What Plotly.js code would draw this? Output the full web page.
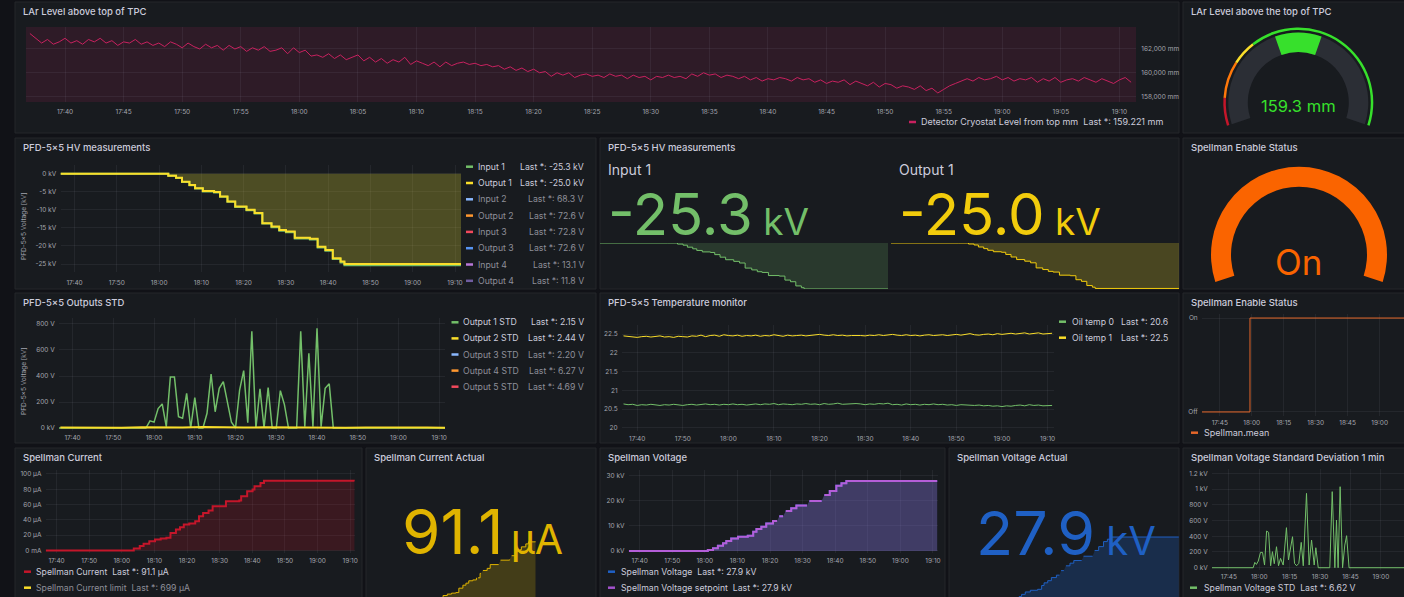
<!DOCTYPE html>
<html>
<head>
<meta charset="utf-8">
<script src="https://cdn.plot.ly/plotly-3.0.1.min.js"></script>
<style>
html,body{margin:0;padding:0;background:#111217;overflow:hidden}
#chart{width:1404px;height:597px}
</style>
</head>
<body>
<div id="chart"></div>
<script>
// ================= DATA =================
const DAY = '2024-05-14 ';
const timeRange = ['17:36:40', '19:11:25'];

// LAr level above top of TPC (mm), one reading every 30 s from 17:37:00
const larStart = '17:37:00';
const larStepSec = 30;
const larLevelMM = [
163.3,162.9,162.5,162.8,162.4,162.6,162.9,162.5,162.7,162.4,
162.8,162.6,162.9,162.5,162.7,162.3,162.6,162.5,162.8,162.4,
162.6,162.3,162.5,162.2,162.6,162.4,162.1,162.5,162.2,162.0,
162.4,162.1,162.3,161.9,162.3,162.0,162.2,161.8,162.1,161.9,
162.2,161.8,161.9,162.1,161.6,162.1,161.7,161.9,161.4,161.5,
161.3,161.6,161.2,161.5,161.1,161.3,161.5,161.0,161.3,160.9,
161.2,160.8,161.1,160.9,161.3,160.7,161.0,160.8,160.6,160.9,
160.5,160.9,160.6,160.8,160.9,160.7,160.8,160.6,160.7,160.5,
160.6,160.3,160.5,160.2,160.4,160.1,160.3,160.0,160.1,159.7,
160.0,159.8,160.0,159.6,159.8,159.9,159.7,159.8,159.6,159.9,
159.7,159.8,159.5,159.8,159.6,159.7,159.4,159.7,159.6,159.8,
159.6,159.7,159.5,159.9,159.7,160.0,159.8,159.9,159.6,159.8,
159.7,159.5,159.7,159.4,159.6,159.3,159.5,159.4,159.6,159.5,
159.3,159.6,159.4,159.5,159.2,159.4,159.1,159.3,159.2,159.4,
159.0,159.3,159.1,158.9,159.2,158.8,159.1,159.0,158.7,158.9,
158.8,158.6,158.9,158.5,158.7,158.3,158.6,158.9,159.1,159.3,
159.5,159.3,159.6,159.4,159.5,159.7,159.4,159.6,159.3,159.5,
159.4,159.6,159.2,159.5,159.3,159.6,159.2,159.4,159.5,159.3,
159.6,159.4,159.2,159.5,159.3,159.1,159.4,159.6,159.2];
const larYTicks = [158, 160, 162];
const larYText = ['158,000 mm', '160,000 mm', '162,000 mm'];
const larLegendName = 'Detector Cryostat Level from top mm';
const larLegendLast = 'Last *: 159.221 mm';
const larGaugeValueText = '159.3 mm';
// gauge scale (mm) and thresholds
const larGaugeMin = 150, larGaugeMax = 170;
const larThresholds = [150, 152, 154.7, 156.5];
const larThresholdColors = ['#c4162a', '#ff780a', '#fade2a', '#37e02c'];
const larValueBand = [158.2, 161.8];

// PFD-5x5 HV measurements (kV)
const hvTimes = ['17:36:40','17:59:00','18:02:10','18:04:00','18:05:25','18:07:10','18:08:30','18:10:20','18:13:00','18:14:25',
 '18:16:10','18:18:00','18:20:40','18:22:35','18:24:25','18:26:35','18:28:25','18:30:00','18:32:05','18:35:40',
 '18:37:30','18:39:20','18:41:05','18:42:55','18:43:50','19:11:25'];
const hvOutput1KV = [0,0,-0.55,-1.1,-2.2,-3.1,-4.0,-4.8,-5.1,-6.3,-7.7,-9.1,-10.0,-10.9,-13.7,-14.6,-15.6,-16.0,-17.7,-18.0,-20.2,-21.1,-23.4,-24.3,-25.0,-25.0];
const hvInput1KV  = [0,0,-0.6,-1.2,-2.3,-3.2,-4.1,-4.9,-5.2,-6.4,-7.8,-9.2,-10.1,-11.0,-13.8,-14.8,-15.8,-16.2,-17.9,-18.2,-20.4,-21.3,-23.6,-24.6,-25.3,-25.3];
const hvLegendNames = ['Input 1','Output 1','Input 2','Output 2','Input 3','Output 3','Input 4','Output 4'];
const hvLegendLast = ['Last *: -25.3 kV','Last *: -25.0 kV','Last *: 68.3 V','Last *: 72.6 V','Last *: 72.8 V','Last *: 72.6 V','Last *: 13.1 V','Last *: 11.8 V'];
const hvLegendColors = ['#73bf69','#fade2a','#8ab8ff','#ff9830','#f2495c','#5794f2','#b877d9','#705da0'];
const hvLegendShown = [true,true,false,false,false,false,false,false];
const hvYTicks = [0,-5,-10,-15,-20,-25];
const hvYText = ['0 kV','-5 kV','-10 kV','-15 kV','-20 kV','-25 kV'];
const hvStatNames = ['Input 1','Output 1'];
const hvStatValues = ['-25.3','-25.0'];
const hvStatUnit = 'kV';

// Spellman enable status
const enableTimes = ['17:36:40','17:59:10','19:11:25'];
const enableValues = [0,1,1];
const enableYText = ['Off','On'];
const enableStateText = 'On';

// PFD-5x5 Outputs STD (V)
const stdOut1Start = '17:58:00';   // one value per minute
const stdOut1V = [0,55,45,150,185,10,392,392,87,75,267,0,233,0,0,113,415,125,305,356,
 190,44,0,292,441,40,744,0,302,0,310,0,0,287,180,0,0,0,744,10,574,10,767,10,305,340,0];
const stdOut2Start = '17:37:00';   // one value every 5 minutes
const stdOut2V = [4,3,5,2,6,3,4,8,5,3,6,4,3,5,2,4,6,3,4,2];
const stdLegendNames = ['Output 1 STD','Output 2 STD','Output 3 STD','Output 4 STD','Output 5 STD'];
const stdLegendLast = ['Last *: 2.15 V','Last *: 2.44 V','Last *: 2.20 V','Last *: 6.27 V','Last *: 4.69 V'];
const stdLegendColors = ['#73bf69','#fade2a','#8ab8ff','#ff9830','#f2495c'];
const stdLegendShown = [true,true,false,false,false];
const stdYTicks = [0,200,400,600,800];
const stdYText = ['0 kV','200 V','400 V','600 V','800 V'];

// PFD-5x5 Temperature monitor, one value per minute from 17:37
const tempStart = '17:37:00';
const oilTemp0 = [
20.64,20.62,20.63,20.60,20.62,20.61,20.63,20.62,20.60,20.62,
20.61,20.63,20.62,20.60,20.62,20.63,20.61,20.62,20.64,20.62,
20.63,20.61,20.63,20.62,20.64,20.62,20.63,20.61,20.63,20.64,
20.62,20.64,20.63,20.65,20.62,20.64,20.63,20.62,20.64,20.63,
20.65,20.63,20.64,20.62,20.65,20.63,20.64,20.66,20.63,20.64,
20.63,20.65,20.64,20.62,20.64,20.63,20.65,20.64,20.66,20.62,
20.63,20.61,20.64,20.62,20.63,20.61,20.63,20.62,20.64,20.62,
20.63,20.61,20.62,20.60,20.62,20.61,20.62,20.60,20.61,20.59,
20.60,20.58,20.59,20.57,20.59,20.58,20.60,20.61,20.59,20.62,
20.60,20.61,20.59,20.60,20.60];
const oilTemp1 = [
22.45,22.44,22.42,22.41,22.43,22.44,22.42,22.43,22.45,22.42,
22.43,22.41,22.44,22.43,22.42,22.45,22.44,22.47,22.43,22.46,
22.47,22.44,22.48,22.46,22.45,22.47,22.44,22.46,22.45,22.47,
22.44,22.46,22.45,22.48,22.46,22.44,22.47,22.45,22.46,22.47,
22.45,22.46,22.48,22.49,22.47,22.46,22.48,22.46,22.47,22.45,
22.46,22.47,22.46,22.45,22.47,22.46,22.48,22.46,22.47,22.49,
22.47,22.46,22.48,22.46,22.47,22.45,22.47,22.48,22.46,22.47,
22.48,22.46,22.47,22.49,22.47,22.48,22.51,22.48,22.47,22.49,
22.50,22.48,22.51,22.49,22.50,22.52,22.50,22.51,22.53,22.50,
22.51,22.53,22.50,22.51,22.52];
const tempLegendNames = ['Oil temp 0','Oil temp 1'];
const tempLegendLast = ['Last *: 20.6','Last *: 22.5'];
const tempColors = ['#73bf69','#fade2a'];
const tempYTicks = [20,20.5,21,21.5,22,22.5];
const tempYText = ['20','20.5','21','21.5','22','22.5'];

// Spellman current (uA)
const curTimes = ['17:36:40','18:02:00','18:03:40','18:05:30','18:06:40','18:08:25','18:10:10','18:11:55','18:13:40','18:14:55',
 '18:16:35','18:17:50','18:19:00','18:20:40','18:22:30','18:23:40','18:24:55','18:26:35','18:27:50','18:30:40',
 '18:31:55','18:36:00','18:36:35','18:38:25','18:40:05','18:40:40','18:42:30','18:43:35','19:11:20'];
const curUA = [0,0,2.6,5.7,8.7,12.2,14.3,15.7,16.5,23.0,27.4,30.4,33.9,35.2,38.3,44.8,49.1,52.2,57.8,57.8,
 64.3,65.2,70.9,77.4,79.6,83.9,88.3,91.3,91.1];
const curYTicks = [0,20,40,60,80,100];
const curYText = ['0 mA','20 µA','40 µA','60 µA','80 µA','100 µA'];
const curLegend = [['Spellman Current','Last *: 91.1 µA','#c4162a',true],['Spellman Current limit','Last *: 699 µA','#fade2a',false]];
// Spellman current actual (stat sparkline, with gaps)
const caTimes = ['17:36:40','18:02:00','18:03:40','18:05:30','18:06:40','18:08:25','18:10:10','18:11:55','18:13:40','18:14:55',
 '18:16:35','18:17:50','18:19:00','18:20:40','18:22:10','18:22:30','18:22:50','18:23:40','18:24:00','18:24:20',
 '18:24:50','18:26:35','18:27:50','18:31:20','18:31:40','18:32:05','18:35:50','18:36:10','18:36:40','18:38:25',
 '18:40:05','18:40:40','18:42:30','18:43:35','18:46:30'];
const caUA = [0,0,2.6,5.7,8.7,12.2,14.3,15.7,16.5,23.0,27.4,30.4,33.9,35.2,38.3,null,38.3,44.8,44.8,null,
 49.1,52.2,57.8,57.8,null,64.3,65.2,null,70.9,77.4,79.6,83.9,88.3,91.3,91.1];
const caValueText = '91.1', caUnit = 'µA';

// Spellman voltage (kV) incl. gaps
const vTimes = ['17:36:40','18:00:55','18:02:30','18:04:00','18:05:35','18:06:35','18:08:05','18:10:10','18:13:10','18:14:50',
 '18:15:50','18:17:20','18:18:50','18:20:55','18:22:10','18:22:30','18:22:50','18:24:00','18:24:20','18:24:50',
 '18:26:30','18:28:05','18:31:20','18:31:40','18:32:05','18:35:50','18:36:10','18:36:40','18:38:20','18:40:20',
 '18:41:55','18:43:25','19:11:20'];
const vKV = [0,0.4,1.1,2.1,3.1,4.0,5.0,5.7,6.1,7.7,8.8,9.7,11.0,12.0,12.0,null,13.9,13.9,null,15.9,
 17.0,18.1,18.1,null,19.9,19.9,null,22.3,23.9,26.0,27.0,27.9,27.9];
const vYTicks = [0,10,20,30];
const vYText = ['0 kV','10 kV','20 kV','30 kV'];
const vLegend = [['Spellman Voltage','Last *: 27.9 kV','#1f60c4'],['Spellman Voltage setpoint','Last *: 27.9 kV','#a352cc']];
const vValueText = '27.9', vUnit = 'kV';

// Spellman voltage standard deviation 1 min (V)
const vstdTimes = ['17:36:40','17:57:00','17:57:48','17:58:36','17:59:30','18:00:36','18:01:36','18:02:36','18:03:36','18:04:36',
 '18:05:36','18:06:30','18:07:24','18:08:30','18:09:30','18:10:30','18:11:48','18:13:24','18:14:24','18:15:36',
 '18:16:24','18:17:24','18:18:24','18:19:30','18:20:42','18:21:42','18:23:18','18:24:36','18:25:48','18:27:06',
 '18:27:54','18:29:06','18:34:48','18:36:00','18:37:18','18:38:06','18:38:54','18:39:54','18:41:06','18:42:12',
 '18:43:06','18:44:18','19:11:25'];
const vstdV = [0,0,68,42,85,195,195,34,466,449,25,204,51,267,25,119,34,509,98,288,
 394,55,25,55,322,25,945,34,352,34,254,0,0,967,0,606,0,1030,0,288,407,0,0];
const vstdYTicks = [0,200,400,600,800,1000,1200];
const vstdYText = ['0 kV','200 V','400 V','600 V','800 V','1 kV','1.2 kV'];
const vstdLegend = ['Spellman Voltage STD','Last *: 6.62 V','#73bf69'];

// ================= HELPERS =================
const W = 1404, H = 597;
const FONT = 'Inter, "Open Sans", sans-serif';
const TXT = '#ccccdc', DIM = '#8e8f99', TICKC = '#a3a5ae';
const PANEL = '#181b1f', BORDER = '#24262b', PAGE = '#111217';
const GRID = 'rgba(204,204,220,0.07)';
const px = v => v / W;
const py = v => 1 - v / H;
const dX = (a, b) => [px(a), px(b)];
const dY = (top, bottom) => [py(bottom), py(top)];
function toSec(s){const p=s.split(':').map(Number);return p[0]*3600+p[1]*60+(p[2]||0);}
function fromSec(t){const h=Math.floor(t/3600),m=Math.floor((t%3600)/60),s=Math.round(t%60);return [h,m,s].map(v=>String(v).padStart(2,'0')).join(':');}
const T = s => DAY + fromSec(toSec(s));
const regular = (start, step, n) => Array.from({length:n}, (_, i) => DAY + fromSec(toSec(start) + i*step));
const TICK = {family: FONT, size: 6.5, color: TICKC};

function xAxis(x0, x1, anchor, dtickMin, ticklen) {
  return {domain: dX(x0, x1), anchor, type: 'date', range: timeRange.map(T), tickformat: '%H:%M',
    dtick: dtickMin*60000, tick0: T('17:00:00'), tickfont: TICK, gridcolor: GRID, showline: false,
    zeroline: false, ticks: 'outside', ticklen, tickcolor: 'rgba(0,0,0,0)', fixedrange: true};
}
function yAxis(top, bottom, anchor, range, vals, text, extra) {
  return Object.assign({domain: dY(top, bottom), anchor, range, tickvals: vals, ticktext: text,
    tickfont: TICK, gridcolor: GRID, showline: false, zeroline: false, ticks: 'outside', ticklen: 2,
    tickcolor: 'rgba(0,0,0,0)', fixedrange: true}, extra || {});
}
function hidden(domain, anchor, range, isX) {
  const a = {anchor, range, visible: false, fixedrange: true};
  a.domain = isX ? dX(domain[0], domain[1]) : dY(domain[0], domain[1]);
  if (isX) a.type = 'date';
  return a;
}

const shapes = [], annotations = [];
function panel(x0, y0, x1, y1, title) {
  shapes.push({type: 'rect', xref: 'paper', yref: 'paper', x0: px(x0), x1: px(x1), y0: py(y0), y1: py(y1),
    fillcolor: PANEL, line: {color: BORDER, width: 1}, layer: 'below'});
  annotations.push({xref: 'paper', yref: 'paper', x: px(x0 + 6), y: py(y0 + 9.5), xanchor: 'left', yanchor: 'middle',
    text: title, showarrow: false, font: {family: FONT, size: 9.5, color: TXT, weight: 500}});
}
function text(x, y, t, size, color, xanchor, extra) {
  annotations.push(Object.assign({xref: 'paper', yref: 'paper', x: px(x), y: py(y), xanchor: xanchor || 'left',
    yanchor: 'middle', text: t, showarrow: false, font: {family: FONT, size, color}}, extra || {}));
}
function mark(x, y, color) {
  shapes.push({type: 'line', xref: 'paper', yref: 'paper', x0: px(x), x1: px(x + 7), y0: py(y), y1: py(y),
    line: {color, width: 2.5}});
}

// ================= PANELS =================
panel(15, 2, 1179, 133, 'LAr Level above top of TPC');
panel(1183, 2, 1406, 133, 'LAr Level above the top of TPC');
panel(15, 138, 596, 289, 'PFD-5×5 HV measurements');
panel(600, 138, 1179, 289, 'PFD-5×5 HV measurements');
panel(1183, 138, 1406, 289, 'Spellman Enable Status');
panel(15, 293, 596, 443, 'PFD-5×5 Outputs STD');
panel(600, 293, 1179, 443, 'PFD-5×5 Temperature monitor');
panel(1183, 293, 1406, 443, 'Spellman Enable Status');
panel(15, 448, 362, 600, 'Spellman Current');
panel(366, 448, 596, 600, 'Spellman Current Actual');
panel(600, 448, 945, 600, 'Spellman Voltage');
panel(949, 448, 1179, 600, 'Spellman Voltage Actual');
panel(1183, 448, 1406, 600, 'Spellman Voltage Standard Deviation 1 min');

// ================= TRACES =================
const line = (x, y, xa, ya, color, width, extra) => Object.assign({type: 'scatter', mode: 'lines', x, y,
  xaxis: xa, yaxis: ya, line: {color, width}, hoverinfo: 'skip', showlegend: false}, extra || {});

const traces = [];
const larX = regular(larStart, larStepSec, larLevelMM.length);
traces.push(line(larX, larLevelMM, 'x', 'y', '#c8215f', 1));
shapes.push({type: 'rect', xref: 'x domain', yref: 'y domain', x0: 0, x1: 1, y0: 0, y1: 1,
  fillcolor: 'rgba(200,33,95,0.13)', line: {width: 0}, layer: 'below'});

const hvX = hvTimes.map(T);
traces.push(line(hvX, hvInput1KV, 'x2', 'y2', '#73bf69', 2, {line: {color: '#73bf69', width: 2, shape: 'hv'}, fill: 'tozeroy', fillcolor: 'rgba(115,191,105,0.06)'}));
traces.push(line(hvX, hvOutput1KV, 'x2', 'y2', '#fade2a', 2, {line: {color: '#fade2a', width: 2, shape: 'hv'}, fill: 'tozeroy', fillcolor: 'rgba(250,222,42,0.22)'}));
traces.push(line(hvX, hvInput1KV, 'x3', 'y3', '#73bf69', 1, {line: {color: '#73bf69', width: 1, shape: 'hv'}, fill: 'tozeroy', fillcolor: 'rgba(115,191,105,0.19)'}));
traces.push(line(hvX, hvOutput1KV, 'x4', 'y4', '#fade2a', 1, {line: {color: '#f2cc0c', width: 1, shape: 'hv'}, fill: 'tozeroy', fillcolor: 'rgba(250,222,42,0.22)'}));

const s1X = [T(timeRange[0])].concat(regular(stdOut1Start, 60, stdOut1V.length), [T(timeRange[1])]);
traces.push(line(s1X, [0].concat(stdOut1V, [0]), 'x5', 'y5', '#73bf69', 1.5));
traces.push(line(regular(stdOut2Start, 300, stdOut2V.length), stdOut2V, 'x5', 'y5', '#fade2a', 2));

const tX = regular(tempStart, 60, oilTemp0.length);
traces.push(line(tX, oilTemp0, 'x6', 'y6', tempColors[0], 1));
traces.push(line(tX, oilTemp1, 'x6', 'y6', tempColors[1], 1));

traces.push(line(enableTimes.map(T), enableValues, 'x7', 'y7', '#e5672a', 1, {line: {color: '#e5672a', width: 1, shape: 'hv'}}));

const cX = curTimes.map(T);
traces.push(line(cX, curUA, 'x8', 'y8', '#c4162a', 2, {line: {color: '#c4162a', width: 2, shape: 'hv'}, fill: 'tozeroy', fillcolor: 'rgba(196,22,42,0.2)'}));
traces.push(line(caTimes.map(T), caUA, 'x9', 'y9', '#e0b400', 1, {line: {color: '#e0b400', width: 1, shape: 'hv'}, fill: 'tozeroy', fillcolor: 'rgba(224,180,0,0.22)'}));

const vX = vTimes.map(T);
traces.push(line(vX, vKV, 'x10', 'y10', '#1f60c4', 2, {line: {color: '#1f60c4', width: 2, shape: 'hv'}, fill: 'tozeroy', fillcolor: 'rgba(31,96,196,0.2)'}));
traces.push(line(vX, vKV, 'x10', 'y10', '#b45ed8', 2, {line: {color: '#b45ed8', width: 2, shape: 'hv'}, fill: 'tozeroy', fillcolor: 'rgba(184,119,217,0.25)'}));
traces.push(line(vX, vKV, 'x11', 'y11', '#1f60c4', 1, {line: {color: '#1f60c4', width: 1, shape: 'hv'}, fill: 'tozeroy', fillcolor: 'rgba(31,96,196,0.27)'}));

traces.push(line(vstdTimes.map(T), vstdV, 'x12', 'y12', '#73bf69', 1));

// ---- gauges as ring (pie) traces ----
const ARC = 216; // degrees of gauge sweep
const START = -ARC / 2;
const ang = v => (v - larGaugeMin) / (larGaugeMax - larGaugeMin) * ARC;
function ring(cx, cy, rOut, rIn, rotation, values, colors) {
  return {type: 'pie', values, sort: false, direction: 'clockwise', rotation, hole: rIn / rOut,
    marker: {colors, line: {width: 0}}, textinfo: 'none', hoverinfo: 'skip', showlegend: false,
    domain: {x: dX(cx - rOut, cx + rOut), y: dY(cy - rOut, cy + rOut)}};
}
const thrEdges = larThresholds.concat([larGaugeMax]).map(ang);
const thrSlices = thrEdges.slice(1).map((e, i) => e - thrEdges[i]);
traces.push(ring(1298.3, 102.5, 75, 72.5, START, thrSlices.concat([360 - ARC]), larThresholdColors.concat(['rgba(0,0,0,0)'])));
traces.push(ring(1298.3, 102.5, 70, 50.5, START, [ARC, 360 - ARC], ['#2b2e35', 'rgba(0,0,0,0)']));
traces.push(ring(1298.3, 102.5, 70, 50.5, START + ang(larValueBand[0]), [ang(larValueBand[1]) - ang(larValueBand[0]), 360 - (ang(larValueBand[1]) - ang(larValueBand[0]))], ['#37e02c', 'rgba(0,0,0,0)']));
traces.push(ring(1299, 254.7, 88, 68, START, [ARC * enableValues[enableValues.length - 1], 360 - ARC], ['#fa6400', 'rgba(0,0,0,0)']));

// ================= TEXT: legends, stats =================
mark(909, 122, '#c8215f');
text(919, 122, larLegendName + '&nbsp; ' + larLegendLast, 9, TXT);
text(1298, 106.5, larGaugeValueText, 16.5, '#37e02c', 'center');

hvLegendNames.forEach((n, i) => {
  const y = 166.7 + i * 16.3, c = hvLegendShown[i] ? TXT : DIM;
  mark(466, y, hvLegendColors[i]);
  text(476.5, y, n, 8.7, c);
  text(586, y, hvLegendLast[i], 8.7, c, 'right');
});
text(24, 226, 'PFD-5×5 Voltage [kV]', 6.5, TICKC, 'center', {textangle: -90});
text(24, 381, 'PFD-5×5 Voltage [kV]', 6.5, TICKC, 'center', {textangle: -90});

const statX = [606, 897], statColors = ['#73bf69', '#f2cc0c'];
hvStatNames.forEach((n, i) => {
  text(statX[i], 170, n, 14, TXT);
  text(statX[i], 214, hvStatValues[i] + '<span style="font-size:37px"> ' + hvStatUnit + '</span>', 58, statColors[i]);
});
text(1298, 262, enableStateText, 35, '#fa6400', 'center');

stdLegendNames.forEach((n, i) => {
  const y = 322.3 + i * 16.1, c = stdLegendShown[i] ? TXT : DIM;
  mark(451.5, y, stdLegendColors[i]);
  text(461, y, n, 8.7, c);
  text(586, y, stdLegendLast[i], 8.7, c, 'right');
});
tempLegendNames.forEach((n, i) => {
  const y = 321.7 + i * 16;
  mark(1059, y, tempColors[i]);
  text(1070, y, n, 8.7, TXT);
  text(1170, y, tempLegendLast[i], 8.7, TXT, 'right');
});
mark(1191, 432.7, '#e5672a');
text(1202, 432.7, 'Spellman.mean', 9, TXT);

curLegend.forEach((r, i) => {
  const y = 571.7 + i * 16;
  mark(24, y, r[2]);
  text(34.4, y, r[0] + '&nbsp; ' + r[1], 8.7, r[3] ? TXT : DIM);
});
text(482, 531, caValueText + '<span style="font-size:41px">&#8201;' + caUnit + '</span>', 62, '#e0b400', 'center');
vLegend.forEach((r, i) => {
  const y = 571.7 + i * 16;
  mark(608, y, r[2]);
  text(618.7, y, r[0] + '&nbsp; ' + r[1], 8.7, TXT);
});
text(1066, 533, vValueText + '<span style="font-size:40px"> ' + vUnit + '</span>', 61, '#1f60c4', 'center');
mark(1190, 587.7, vstdLegend[2]);
text(1202, 587.7, vstdLegend[0] + '&nbsp; ' + vstdLegend[1], 8.7, TXT);

// ================= LAYOUT =================
const layout = {
  width: W, height: H, margin: {l: 0, r: 0, t: 0, b: 0}, autosize: false,
  paper_bgcolor: PAGE, plot_bgcolor: 'rgba(0,0,0,0)', showlegend: false,
  font: {family: FONT, color: TXT}, shapes, annotations,
  xaxis: xAxis(26, 1136, 'y', 5, 3),
  yaxis: yAxis(27, 102, 'x', [157.54, 163.85], larYTicks, larYText, {side: 'right', ticklen: 3}),
  xaxis2: xAxis(60.5, 461, 'y2', 10, 4),
  yaxis2: yAxis(165, 272, 'x2', [-27.2, 2.4], hvYTicks, hvYText),
  xaxis3: hidden([600, 888], 'y3', timeRange.map(T), true),
  yaxis3: hidden([243, 289], 'x3', [-25.3, 0], false),
  xaxis4: hidden([891, 1179], 'y4', timeRange.map(T), true),
  yaxis4: hidden([243, 289], 'x4', [-25.3, 0], false),
  xaxis5: xAxis(59, 445, 'y5', 10, 0),
  yaxis5: yAxis(318, 431, 'x5', [-23, 846], stdYTicks, stdYText),
  xaxis6: xAxis(622, 1054, 'y6', 10, 1),
  yaxis6: yAxis(325, 431, 'x6', [19.92, 22.74], tempYTicks, tempYText),
  xaxis7: xAxis(1202, 1404.4, 'y7', 15, 0),
  yaxis7: yAxis(314, 416, 'x7', [-0.043, 1.043], [0, 1], enableYText),
  xaxis8: xAxis(45.7, 354.8, 'y8', 10, 1),
  yaxis8: yAxis(470, 553, 'x8', [-3.3, 105.2], curYTicks, curYText),
  xaxis9: hidden([366, 596], 'y9', timeRange.map(T), true),
  yaxis9: hidden([500, 597], 'x9', [10, 153], false),
  xaxis10: xAxis(628.8, 937.6, 'y10', 10, 1),
  yaxis10: yAxis(470, 553, 'x10', [-0.8, 32.3], vYTicks, vYText),
  xaxis11: hidden([949, 1179], 'y11', timeRange.map(T), true),
  yaxis11: hidden([520, 597], 'x11', [2.9, 35], false),
  xaxis12: xAxis(1212, 1404.1, 'y12', 15, 0),
  yaxis12: yAxis(469, 570, 'x12', [-29, 1255], vstdYTicks, vstdYText)
};

Plotly.newPlot('chart', traces, layout, {staticPlot: true, displayModeBar: false, responsive: false});
</script>
</body>
</html>
